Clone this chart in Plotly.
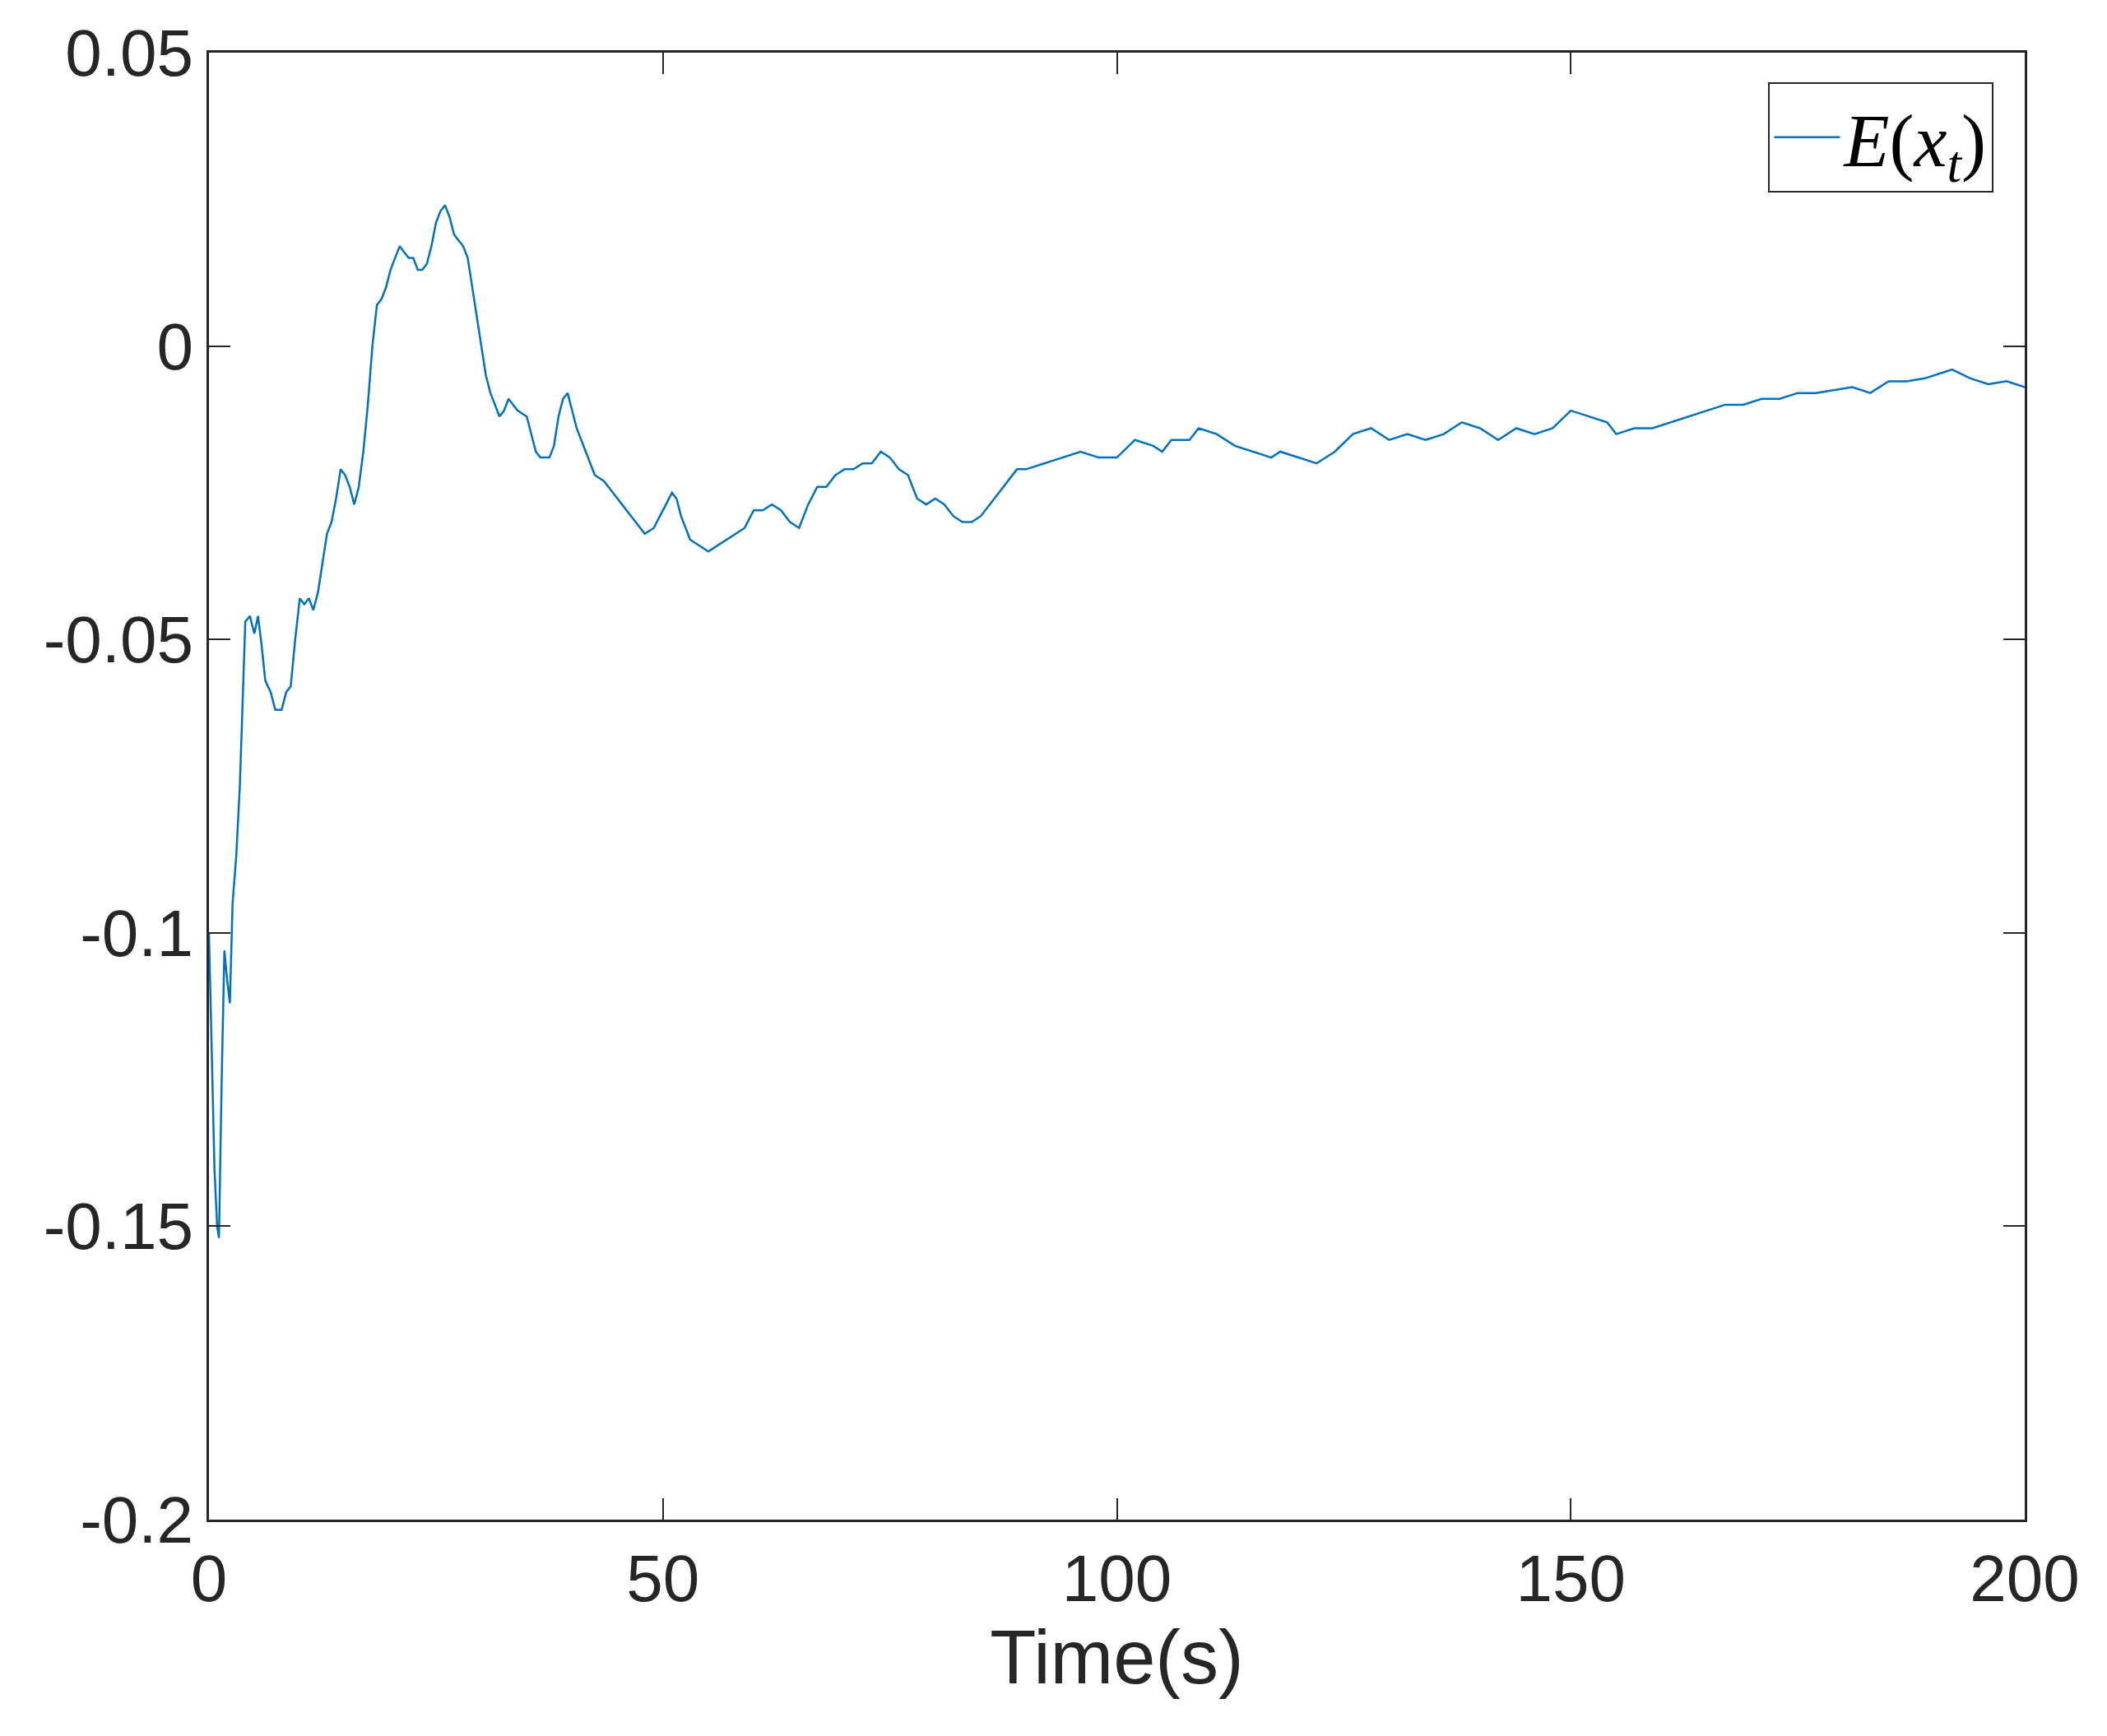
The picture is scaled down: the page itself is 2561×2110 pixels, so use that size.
import plotly.graph_objects as go

t = [0,0.3,0.6,0.9,1.1,1.4,1.7,2.0,2.3,2.6,3.0,3.4,3.7,4.0,4.5,5.0,5.4,5.8,6.2,6.8,7.3,8.0,8.5,9.0,9.5,10,10.5,11,11.5,12,12.5,13,13.5,14,14.5,15,15.5,16,16.5,17,17.5,18,18.5,19,19.5,20,20.5,21,21.5,22,22.5,23,23.5,24,24.5,25,25.5,26,26.5,27,27.5,28,28.5,29,29.5,30,30.5,31,31.5,32,32.5,33,33.5,34,35,35.5,36,36.5,37.5,38,38.5,39,39.5,40,40.5,41,42,42.5,43.5,44.5,45.5,46.5,47.5,48,49,50,51,51.5,52,53,54,55,56,57,58,59,60,61,62,63,64,65,66,67,68,69,70,71,72,73,74,75,76,77,78,79,80,81,82,83,84,85,86,87,88,89,90,92,94,96,98,100,102,104,105,106,108,109,111,113,115,117,118,120,122,124,126,128,130,132,134,136,138,140,142,144,146,148,150,152,154,155,157,159,161,163,165,167,169,171,173,175,177,179,181,183,185,187,189,191,192,194,196,198,200]
e = [-0.100,-0.118,-0.14,-0.150,-0.152,-0.125,-0.103,-0.108,-0.112,-0.095,-0.087,-0.075,-0.060,-0.047,-0.046,-0.049,-0.046,-0.051,-0.057,-0.059,-0.062,-0.062,-0.059,-0.058,-0.050,-0.043,-0.044,-0.043,-0.045,-0.042,-0.037,-0.032,-0.030,-0.026,-0.021,-0.022,-0.024,-0.027,-0.024,-0.018,-0.010,0.000,0.007,0.008,0.010,0.013,0.015,0.017,0.016,0.015,0.015,0.013,0.013,0.014,0.017,0.021,0.023,0.024,0.022,0.019,0.018,0.017,0.015,0.010,0.005,0.000,-0.005,-0.008,-0.010,-0.012,-0.011,-0.009,-0.010,-0.011,-0.012,-0.015,-0.018,-0.019,-0.019,-0.017,-0.012,-0.009,-0.008,-0.011,-0.014,-0.016,-0.020,-0.022,-0.023,-0.025,-0.027,-0.029,-0.031,-0.032,-0.031,-0.028,-0.025,-0.026,-0.029,-0.033,-0.034,-0.035,-0.034,-0.033,-0.032,-0.031,-0.028,-0.028,-0.027,-0.028,-0.030,-0.031,-0.027,-0.024,-0.024,-0.022,-0.021,-0.021,-0.020,-0.020,-0.018,-0.019,-0.021,-0.022,-0.026,-0.027,-0.026,-0.027,-0.029,-0.030,-0.030,-0.029,-0.027,-0.025,-0.023,-0.021,-0.021,-0.020,-0.019,-0.018,-0.019,-0.019,-0.016,-0.017,-0.018,-0.016,-0.016,-0.014,-0.015,-0.017,-0.018,-0.019,-0.018,-0.019,-0.020,-0.018,-0.015,-0.014,-0.016,-0.015,-0.016,-0.015,-0.013,-0.014,-0.016,-0.014,-0.015,-0.014,-0.011,-0.012,-0.013,-0.015,-0.014,-0.014,-0.013,-0.012,-0.011,-0.010,-0.010,-0.009,-0.009,-0.008,-0.008,-0.0075,-0.007,-0.008,-0.006,-0.006,-0.0055,-0.0045,-0.004,-0.0055,-0.0065,-0.006,-0.007]

xticks = [0, 50, 100, 150, 200]
yticks = [-0.2, -0.15, -0.1, -0.05, 0, 0.05]
ytick_labels = ["-0.2", "-0.15", "-0.1", "-0.05", "0", "0.05"]

fig = go.Figure(go.Scatter(x=t, y=e, mode="lines", line=dict(color="#0072BD", width=2.5),
                           name="<i>E</i>(<i>x<sub>t</sub></i>)"))
axis_common = dict(showgrid=False, zeroline=False, showline=True, linecolor="#262626", linewidth=3,
                   mirror="allticks", ticks="inside", ticklen=26, tickwidth=2, tickcolor="#262626",
                   tickfont=dict(family="Liberation Sans, Arial", size=80, color="#262626"))
fig.update_xaxes(range=[0, 200], tickvals=xticks, title=dict(text="Time(s)", font=dict(family="Liberation Sans, Arial", size=92, color="#262626"), standoff=15), **axis_common)
fig.update_yaxes(range=[-0.2, 0.05], tickvals=yticks, ticktext=ytick_labels, **axis_common)
fig.update_layout(width=2561, height=2110, margin=dict(l=246, r=108, t=56, b=271),
                  paper_bgcolor="white", plot_bgcolor="white", showlegend=True,
                  legend=dict(x=0.983, y=0.98, xanchor="right", yanchor="top", bordercolor="#262626", borderwidth=2,
                              bgcolor="white", itemwidth=80,
                              font=dict(family="Liberation Serif, Times New Roman", size=90, color="black")))
fig.write_html("out.html")
